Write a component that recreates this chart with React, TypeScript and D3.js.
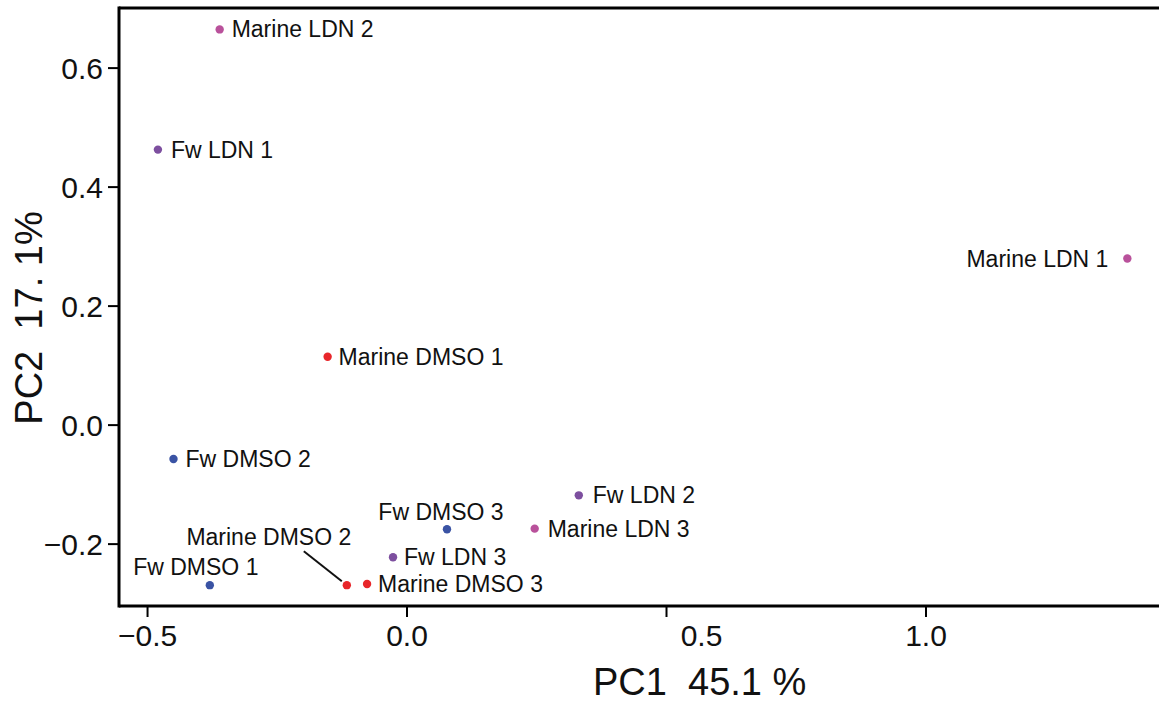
import React from "react";
import * as d3 from "d3";

// PCA scores
const sampleNames = [
  "Marine LDN 2",
  "Fw LDN 1",
  "Marine LDN 1",
  "Marine DMSO 1",
  "Fw DMSO 2",
  "Fw LDN 2",
  "Marine LDN 3",
  "Fw DMSO 3",
  "Fw LDN 3",
  "Marine DMSO 3",
  "Marine DMSO 2",
  "Fw DMSO 1",
];
const pc1 = [-0.361, -0.48, 1.388, -0.153, -0.45, 0.331, 0.246, 0.077, -0.027, -0.077, -0.116, -0.38];
const pc2 = [0.665, 0.463, 0.28, 0.115, -0.057, -0.118, -0.174, -0.175, -0.222, -0.267, -0.269, -0.269];

const groups = ["Marine LDN", "Fw LDN", "Fw DMSO", "Marine DMSO"];
const groupColors = ["#b9519b", "#7d4f9f", "#3a53a4", "#e8262a"];

const xTicks = [-0.5, 0.0, 0.5, 1.0];
const yTicks = [-0.2, 0.0, 0.2, 0.4, 0.6];

const xTitle = "PC1  45.1 %";
const yTitle = "PC2  17. 1%";

// label placement, px relative to the point
const labelPos: Record<string, { dx: number; dy: number; anchor: string; leader?: number[] }> = {
  "Marine LDN 2": { dx: 12, dy: 8, anchor: "start" },
  "Fw LDN 1": { dx: 13, dy: 8, anchor: "start" },
  "Marine LDN 1": { dx: -19, dy: 8, anchor: "end" },
  "Marine DMSO 1": { dx: 11, dy: 8, anchor: "start" },
  "Fw DMSO 2": { dx: 12, dy: 8, anchor: "start" },
  "Fw LDN 2": { dx: 14, dy: 8, anchor: "start" },
  "Marine LDN 3": { dx: 13, dy: 8, anchor: "start" },
  "Fw DMSO 3": { dx: -6, dy: -9, anchor: "middle" },
  "Fw LDN 3": { dx: 11, dy: 8, anchor: "start" },
  "Marine DMSO 3": { dx: 11, dy: 8, anchor: "start" },
  "Marine DMSO 2": { dx: -78, dy: -40, anchor: "middle", leader: [-43, -34, -5, -4] },
  "Fw DMSO 1": { dx: -14, dy: -10, anchor: "middle" },
};

const font = "'Liberation Sans', Arial, Helvetica, sans-serif";

export default function App() {
  const width = 1159;
  const height = 702;
  const left = 119;
  const top = 8;
  const bottom = 606;

  const x = d3.scaleLinear().domain([-0.555, 1.449]).range([left, width]);
  const y = d3.scaleLinear().domain([-0.304, 0.701]).range([bottom, top]);
  const color = d3.scaleOrdinal<string, string>().domain(groups).range(groupColors);

  const groupOf = (name: string) => name.replace(/\s\d+$/, "");

  return (
    <div style={{ position: "absolute", left: 0, top: 0 }}>
      <svg width={width} height={height} style={{ display: "block", background: "#fff" }} fontFamily={font}>
        {/* frame */}
        <line x1={left} y1={top} x2={width} y2={top} stroke="#000" strokeWidth={3} />
        <line x1={left} y1={bottom} x2={width} y2={bottom} stroke="#000" strokeWidth={3} />
        <line x1={left} y1={top - 1.5} x2={left} y2={bottom + 1.5} stroke="#000" strokeWidth={3} />

        {/* x axis */}
        {xTicks.map((t) => (
          <g key={"x" + t}>
            <line x1={x(t)} y1={bottom} x2={x(t)} y2={bottom + 11} stroke="#000" strokeWidth={2} />
            <text x={x(t) + (t === 0.5 ? 35 : 0)} y={646} fontSize={30} textAnchor="middle" fill="#111">
              {d3.format(".1f")(t).replace("-", "\u2212")}
            </text>
          </g>
        ))}

        {/* y axis */}
        {yTicks.map((t) => (
          <g key={"y" + t}>
            <line x1={left - 11} y1={y(t)} x2={left} y2={y(t)} stroke="#000" strokeWidth={2} />
            <text x={103} y={y(t) + 10.5} fontSize={30} textAnchor="end" fill="#111">
              {d3.format(".1f")(t).replace("-", "\u2212")}
            </text>
          </g>
        ))}

        <text x={593} y={695} fontSize={38} fill="#111" style={{ whiteSpace: "pre" }}>
          {xTitle}
        </text>
        <text
          transform={`translate(42,318) rotate(-90)`}
          fontSize={38}
          textAnchor="middle"
          fill="#111"
          style={{ whiteSpace: "pre" }}
        >
          {yTitle}
        </text>

        {/* points */}
        {sampleNames.map((name, i) => {
          const cx = x(pc1[i]);
          const cy = y(pc2[i]);
          const lp = labelPos[name];
          return (
            <g key={name}>
              {lp.leader && (
                <line
                  x1={cx + lp.leader[0]}
                  y1={cy + lp.leader[1]}
                  x2={cx + lp.leader[2]}
                  y2={cy + lp.leader[3]}
                  stroke="#111"
                  strokeWidth={2}
                />
              )}
              <circle cx={cx} cy={cy} r={4.2} fill={color(groupOf(name))} />
              <text x={cx + lp.dx} y={cy + lp.dy} fontSize={23} textAnchor={lp.anchor} fill="#111">
                {name}
              </text>
            </g>
          );
        })}
      </svg>
    </div>
  );
}
